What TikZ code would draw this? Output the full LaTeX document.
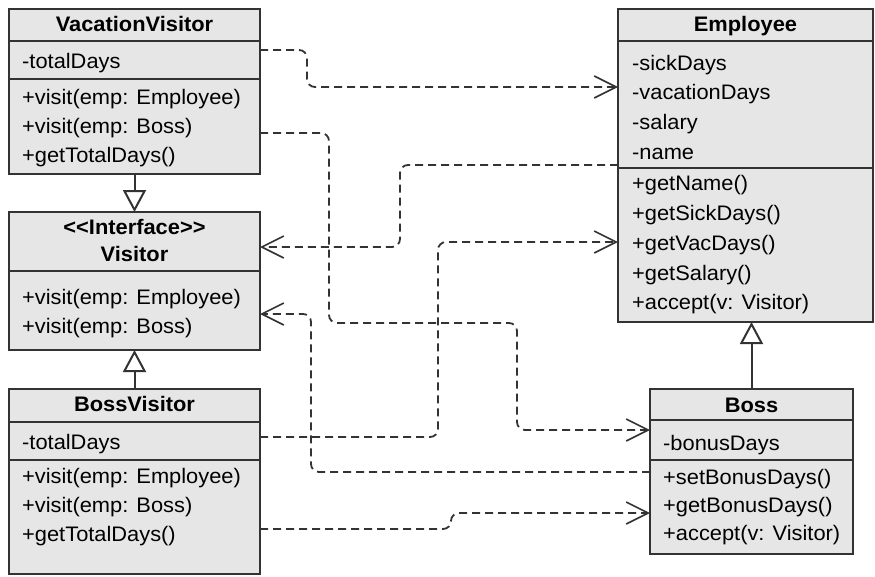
\documentclass[tikz,border=0pt]{standalone}
\usepackage{fontspec}
\setmainfont[FakeStretch=1.04]{Liberation Sans}
\usetikzlibrary{arrows.meta}
\definecolor{boxfill}{HTML}{E6E6E6}
\definecolor{ink}{HTML}{333333}
\begin{document}
\begin{tikzpicture}[x=1pt,y=-1pt,
  cls/.style={draw=ink, fill=boxfill, line width=2pt, inner sep=0pt, outer sep=0pt, anchor=north west, rectangle},
  sep/.style={draw=ink, line width=2pt},
  ttl/.style={font=\fontsize{21}{25}\selectfont\bfseries, inner sep=0pt, text height=15pt, text depth=1pt},
  row/.style={font=\fontsize{21}{25}\selectfont, anchor=west, inner sep=0pt, text height=15pt, text depth=1pt},
  dep/.style={draw=ink, line width=1.8pt, dash pattern=on 8pt off 5pt, rounded corners=8pt,
    -{Straight Barb[length=22pt,width=22pt,line width=1.6pt]}},
  gen/.style={draw=ink, line width=2pt, -{Triangle[length=22pt,width=23pt,fill=white,line width=2pt]}}]
\useasboundingbox (0,0) rectangle (875,576);

% ---- class boxes ----
\node[cls, minimum width=251pt, minimum height=165pt] (vv) at (9,9) {};
\node[cls, minimum width=251pt, minimum height=138pt] (vis) at (9,212) {};
\node[cls, minimum width=251pt, minimum height=185pt] (bv) at (9,389) {};
\node[cls, minimum width=255pt, minimum height=313pt] (emp) at (618,9) {};
\node[cls, minimum width=203pt, minimum height=165pt] (boss) at (650,389) {};

% ---- compartment separators ----
\draw[sep] (vv.west |- 0,41) -- (vv.east |- 0,41);
\draw[sep] (vv.west |- 0,79) -- (vv.east |- 0,79);
\draw[sep] (vis.west |- 0,271) -- (vis.east |- 0,271);
\draw[sep] (bv.west |- 0,422) -- (bv.east |- 0,422);
\draw[sep] (bv.west |- 0,460) -- (bv.east |- 0,460);
\draw[sep] (emp.west |- 0,41) -- (emp.east |- 0,41);
\draw[sep] (emp.west |- 0,168) -- (emp.east |- 0,168);
\draw[sep] (boss.west |- 0,420) -- (boss.east |- 0,420);
\draw[sep] (boss.west |- 0,460) -- (boss.east |- 0,460);

% ---- VacationVisitor ----
\node[ttl] (vvT) at (134.5,24) {VacationVisitor};
\node[row] (vvA) at (22,61) {-totalDays};
\node[row] (vvM1) at (22,97) {+visit(emp: Employee)};
\node[row] (vvM2) at (22,126) {+visit(emp: Boss)};
\node[row] (vvM3) at (22,155) {+getTotalDays()};

% ---- Visitor ----
\node[ttl] (visS) at (134.5,227) {<{}<Interface>{}>};
\node[ttl] (visT) at (134.5,254) {Visitor};
\node[row] (visM1) at (22,297) {+visit(emp: Employee)};
\node[row] (visM2) at (22,326) {+visit(emp: Boss)};

% ---- BossVisitor ----
\node[ttl] (bvT) at (134.5,404) {BossVisitor};
\node[row] (bvA) at (22,442) {-totalDays};
\node[row] (bvM1) at (22,476) {+visit(emp: Employee)};
\node[row] (bvM2) at (22,505) {+visit(emp: Boss)};
\node[row] (bvM3) at (22,534) {+getTotalDays()};

% ---- Employee ----
\node[ttl] (empT) at (745.5,24) {Employee};
\node[row] (empA1) at (632,63) {-sickDays};
\node[row] (empA2) at (632,92) {-vacationDays};
\node[row] (empA3) at (632,122) {-salary};
\node[row] (empA4) at (632,152) {-name};
\node[row] (empM1) at (632,183) {+getName()};
\node[row] (empM2) at (632,213) {+getSickDays()};
\node[row] (empM3) at (632,243) {+getVacDays()};
\node[row] (empM4) at (632,273) {+getSalary()};
\node[row] (empM5) at (632,302) {+accept(v: Visitor)};

% ---- Boss ----
\node[ttl] (bossT) at (751.5,405) {Boss};
\node[row] (bossA) at (663,443) {-bonusDays};
\node[row] (bossM1) at (663,477) {+setBonusDays()};
\node[row] (bossM2) at (663,505) {+getBonusDays()};
\node[row] (bossM3) at (663,533) {+accept(v: Visitor)};

% ---- generalisation / realisation ----
\draw[gen] (vv.south) -- (vis.north);
\draw[gen] (bv.north) -- (vis.south);
\draw[gen] (boss.north) -- (emp.south -| boss.north);

% ---- dependencies ----
\draw[dep] (vv.east |- 0,50) -- (307,50) -- (307,87) -- (emp.west |- 0,87);
\draw[dep] (vv.east |- 0,133) -- (329,133) -- (329,323) -- (517,323) -- (517,430) -- (boss.west |- 0,430);
\draw[dep] (emp.west |- 0,165) -- (400,165) -- (400,247) -- (vis.east |- 0,247);
\draw[dep] (bv.east |- 0,437) -- (438,437) -- (438,242) -- (emp.west |- 0,242);
\draw[dep] (boss.west |- 0,472) -- (311,472) -- (311,314) -- (vis.east |- 0,314);
\draw[dep] (bv.east |- 0,529) -- (451,529) -- (451,513) -- (boss.west |- 0,513);
\end{tikzpicture}
\end{document}
